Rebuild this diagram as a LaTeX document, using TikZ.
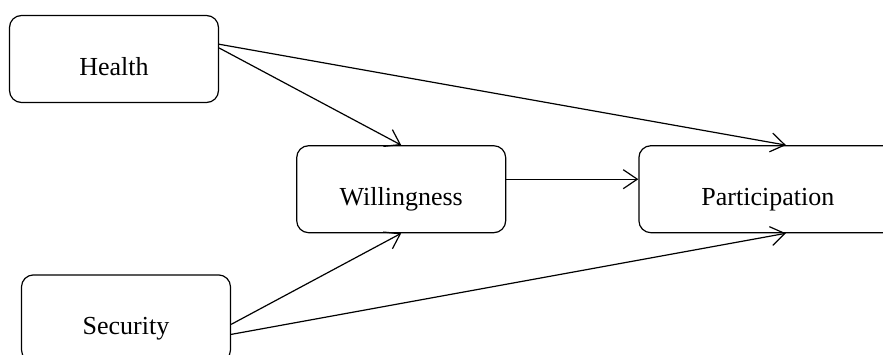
\documentclass[tikz,border=0pt]{standalone}
\usepackage{fontspec}
\setmainfont{Liberation Serif}
\usetikzlibrary{arrows.meta, positioning}

\begin{document}
\begin{tikzpicture}[x=1pt, y=1pt,
		factor/.style = {
			draw, rounded corners=12pt, line width=1.2pt,
			minimum width=209pt, minimum height=87pt, inner sep=0pt,
			text height=36pt, text depth=4pt,
			font=\fontsize{26}{30}\selectfont
		},
		link/.style = {
			line width=1.2pt, -{Straight Barb[length=14pt,width=19pt,line width=1.2pt]}
		}]
		\useasboundingbox (0,0) rectangle (883,-354);
		\node (health) [factor] at (114,-59) {Health};
		\node (will) [factor, below right = 42pt and 77pt of health] {Willingness};
		\node (part) [factor, minimum width=258pt, right = 132pt of will] {Participation};
		\node (sec) [factor, below left = 41pt and 65pt of will] {Security};
		\path [link]
		(health.6.5) edge (will.north)
		(health.8.7) edge ([xshift=18pt]part.north)
		([yshift=10pt]will.east) edge ([yshift=10pt]part.west)
		([yshift=-6pt]sec.east) edge (will.south)
		([yshift=-16pt]sec.east) edge ([xshift=18pt]part.south);
	\end{tikzpicture}
\end{document}
